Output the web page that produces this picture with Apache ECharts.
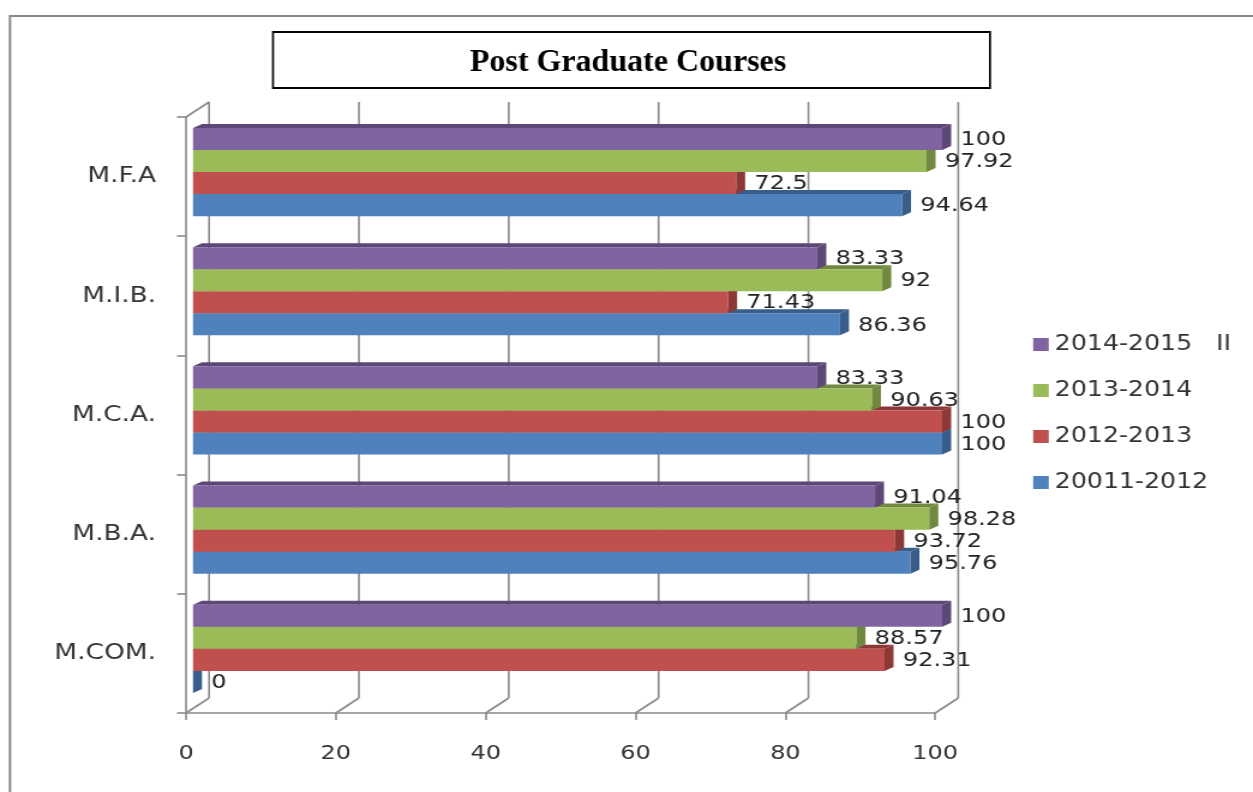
<!DOCTYPE html>
<html>
<head>
<meta charset="utf-8">
<script src="https://cdn.jsdelivr.net/npm/echarts@6/dist/echarts.min.js"></script>
<style>
  html, body { margin: 0; padding: 0; background: #fff; }
  #wrap { position: absolute; left: 0; top: 0; width: 1253px; height: 792px; overflow: hidden; background: #fff; }
  #chart { width: 1044px; height: 792px; transform: scaleX(1.2002); transform-origin: 0 0; }
</style>
</head>
<body>
<div id="wrap"><div id="chart"></div></div>
<script>
// ---- data ----
const categories = ['M.COM.', 'M.B.A.', 'M.C.A.', 'M.I.B.', 'M.F.A'];
const seriesNames = ['20011-2012', '2012-2013', '2013-2014', '2014-2015   II'];
const v2011 = [0, 95.76, 100, 86.36, 94.64];
const v2012 = [92.31, 93.72, 100, 71.43, 72.5];
const v2013 = [88.57, 98.28, 90.63, 92, 97.92];
const v2014 = [100, 91.04, 83.33, 83.33, 100];
const xTicks = [0, 20, 40, 60, 80, 100];
const titleText = 'Post Graduate Courses';

// ---- styles ----
const SX = 1.2002;               // horizontal stretch of the picture
const faceColors = ['#4F81BD', '#C0504D', '#9BBB59', '#8064A2'];
const sideColors = ['#385D8A', '#8C3836', '#71893F', '#5C4776'];
const allValues = [v2011, v2012, v2013, v2014];
const SANS = 'DejaVu Sans';
const BX = 5.8, DDX = 7.5, DDY = 4;     // bar offset and 3D depth
const WX = 19.2, WY = -15;              // back wall offset
const gridColor = '#8a8a8a';

function barGeom(api, v, ci, k) {
  const p0 = api.coord([0, ci]);
  const p1 = api.coord([v, ci]);
  const band = api.size([0, 1])[1];
  const h = band * 0.185;
  const top = p0[1] - band * 0.038 + (1 - k) * h;
  return { x0: p0[0] + BX, x1: p1[0] + BX, top: top, h: h };
}

function barSeries(k) {
  return {
    type: 'custom',
    name: seriesNames[k],
    z: 3,
    clip: false,
    itemStyle: { color: faceColors[k] },
    encode: { x: 0, y: 1 },
    data: allValues[k].map((v, i) => [v, i]),
    renderItem: function (params, api) {
      const g = barGeom(api, api.value(0), api.value(1), k);
      const { x0, x1, top, h } = g;
      return {
        type: 'group',
        children: [
          { type: 'polygon', shape: { points: [[x0, top], [x0 + DDX, top - DDY], [x1 + DDX, top - DDY], [x1, top]] },
            style: { fill: sideColors[k] } },
          { type: 'rect', shape: { x: x0, y: top, width: Math.max(0, x1 - x0), height: h },
            style: { fill: faceColors[k] } },
          { type: 'polygon', shape: { points: [[x1, top], [x1 + DDX, top - DDY], [x1 + DDX, top + h - DDY], [x1, top + h]] },
            style: { fill: sideColors[k] } }
        ]
      };
    }
  };
}

const labelData = [];
allValues.forEach((arr, k) => arr.forEach((v, i) => labelData.push([v, i, k])));

const option = {
  animation: false,
  backgroundColor: 'transparent',
  grid: { left: 155, right: 264.8, top: 117, bottom: 79, containLabel: false },
  xAxis: {
    type: 'value', min: 0, max: 100, interval: 20,
    axisLine: { show: true, lineStyle: { color: gridColor, width: 1.6 } },
    axisTick: { show: true, length: 7, lineStyle: { color: gridColor, width: 1.6 } },
    axisLabel: { fontSize: 20, fontFamily: SANS, color: '#333', margin: 31 },
    splitLine: { show: false }
  },
  yAxis: {
    type: 'category', data: categories,
    axisLine: { show: true, lineStyle: { color: gridColor, width: 1.6 } },
    axisTick: { show: true, length: 7.5, lineStyle: { color: gridColor, width: 1.6 } },
    axisLabel: { fontSize: 22, fontFamily: SANS, color: '#333', margin: 25 },
    splitLine: { show: false }
  },
  legend: {
    orient: 'vertical',
    left: 855.8, top: 329,
    icon: 'rect',
    itemWidth: 13, itemHeight: 13, itemGap: 25,
    data: [seriesNames[3], seriesNames[2], seriesNames[1], seriesNames[0]],
    textStyle: { fontSize: 21, fontFamily: SANS, color: '#333' }
  },
  graphic: [
    { type: 'rect', z: 0, shape: { x: 10 / SX, y: 16, width: 1200, height: 900 },
      style: { fill: 'none', stroke: '#8a8a8a', lineWidth: 2 } },
    { type: 'group', x: 273 / SX, y: 32, scaleX: 1 / SX, z: 10,
      children: [
        { type: 'rect', shape: { x: 0, y: 0, width: 717, height: 56 },
          style: { fill: '#fff', stroke: '#000', lineWidth: 2 } },
        { type: 'text', x: 355, y: 30.5,
          style: { text: titleText, fontFamily: 'Liberation Serif', fontWeight: 'bold', fontSize: 32,
                   fill: '#000', align: 'center', verticalAlign: 'middle' } }
      ] }
  ],
  series: [
    {
      type: 'custom', name: 'wall', z: 1, clip: false, silent: true,
      encode: { x: 0, y: 1 },
      data: xTicks.map(v => [v, 0]),
      renderItem: function (params, api) {
        const cs = params.coordSys;
        const v = api.value(0);
        const x = api.coord([v, 0])[0];
        const yTop = cs.y, yBot = cs.y + cs.height;
        const ls = { stroke: gridColor, lineWidth: 1.6 };
        const ch = [
          { type: 'line', shape: { x1: x + WX, y1: yTop + WY, x2: x + WX, y2: yBot + WY }, style: ls },
          { type: 'line', shape: { x1: x, y1: yBot, x2: x + WX, y2: yBot + WY }, style: ls }
        ];
        if (v === 0) ch.push({ type: 'line', shape: { x1: x, y1: yTop, x2: x + WX, y2: yTop + WY }, style: ls });
        return { type: 'group', children: ch };
      }
    },
    {
      type: 'custom', name: 'labels', z: 2, clip: false, silent: true,
      encode: { x: 0, y: 1 },
      data: labelData,
      renderItem: function (params, api) {
        const v = api.value(0), ci = api.value(1), k = api.value(2);
        const g = barGeom(api, v, ci, k);
        return {
          type: 'text',
          x: api.coord([v, ci])[0] + 21,
          y: g.top + g.h / 2 + 1,
          style: { text: String(v), fontSize: 20, fontFamily: SANS, fill: '#222',
                   align: 'left', verticalAlign: 'middle' }
        };
      }
    },
    barSeries(0), barSeries(1), barSeries(2), barSeries(3)
  ]
};

const chart = echarts.init(document.getElementById('chart'), null, { renderer: 'canvas' });
chart.setOption(option);
</script>
</body>
</html>
